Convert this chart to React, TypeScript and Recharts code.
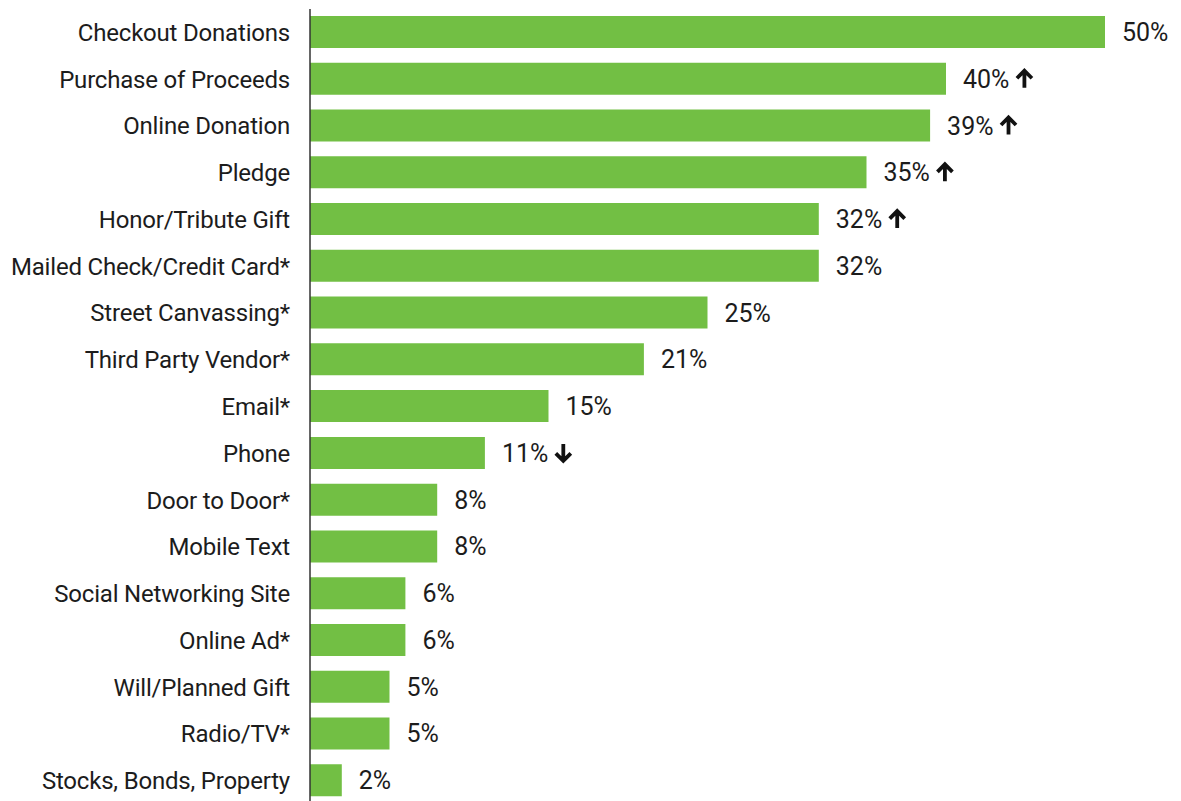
import { BarChart, Bar, XAxis, YAxis, LabelList } from 'recharts';

const categories = [
  'Checkout Donations',
  'Purchase of Proceeds',
  'Online Donation',
  'Pledge',
  'Honor/Tribute Gift',
  'Mailed Check/Credit Card*',
  'Street Canvassing*',
  'Third Party Vendor*',
  'Email*',
  'Phone',
  'Door to Door*',
  'Mobile Text',
  'Social Networking Site',
  'Online Ad*',
  'Will/Planned Gift',
  'Radio/TV*',
  'Stocks, Bonds, Property',
];

const values = [50, 40, 39, 35, 32, 32, 25, 21, 15, 11, 8, 8, 6, 6, 5, 5, 2];

// change vs. previous year: 'up', 'down' or ''
const trends = ['', 'up', 'up', 'up', 'up', '', '', '', '', 'down', '', '', '', '', '', '', ''];

const data = categories.map((name, i) => ({ name, value: values[i], trend: trends[i] }));

const FONT = 'Roboto, "Liberation Sans", sans-serif';
const FONT_SIZE = 25;
const TEXT = '#1c1c1c';
const GREEN = '#72bf44';

let ctx: CanvasRenderingContext2D | null = null;
function textWidth(s: string) {
  if (!ctx) ctx = document.createElement('canvas').getContext('2d');
  if (!ctx) return s.length * 13;
  ctx.font = `${FONT_SIZE}px Roboto`;
  return ctx.measureText(s).width;
}

function ValueLabel(props: any) {
  const { x, y, width, height, index } = props;
  const label = `${values[index]}%`;
  const tx = x + width + 17;
  const cy = y + height / 2;
  const trend = trends[index];
  const ax = tx + textWidth(label) + 15;
  return (
    <g>
      <text x={tx} y={cy + 9} fill={TEXT} fontSize={FONT_SIZE} fontFamily={FONT}>
        {label}
      </text>
      {trend === 'up' && (
        <path
          d={`M${ax},${cy + 9} L${ax},${cy - 7} M${ax - 7.5},${cy - 0.5} L${ax},${cy - 8} L${ax + 7.5},${cy - 0.5}`}
          stroke="#111"
          strokeWidth={3.8}
          fill="none"
        />
      )}
      {trend === 'down' && (
        <path
          d={`M${ax},${cy - 9} L${ax},${cy + 7} M${ax - 7.5},${cy + 0.5} L${ax},${cy + 8} L${ax + 7.5},${cy + 0.5}`}
          stroke="#111"
          strokeWidth={3.8}
          fill="none"
        />
      )}
    </g>
  );
}

export default function App() {
  return (
    <div
      style={{
        position: 'fixed',
        left: 0,
        top: 0,
        width: 1181,
        height: 801,
        overflow: 'hidden',
        background: '#fff',
      }}
    >
      <BarChart
        layout="vertical"
        width={1181}
        height={804}
        data={data}
        margin={{ top: 9, right: 76, left: 0, bottom: 0 }}
        barCategoryGap={0}
      >
        <XAxis type="number" domain={[0, 50]} hide />
        <YAxis
          type="category"
          dataKey="name"
          width={310}
          axisLine={{ stroke: '#333', strokeWidth: 1.5 }}
          tickLine={false}
          tickSize={0}
          tickMargin={20}
          interval={0}
          tick={{ fill: TEXT, fontSize: 24, fontFamily: FONT, letterSpacing: -0.2 }}
        />
        <Bar dataKey="value" fill={GREEN} barSize={32} isAnimationActive={false}>
          <LabelList dataKey="value" content={<ValueLabel />} />
        </Bar>
      </BarChart>
    </div>
  );
}
